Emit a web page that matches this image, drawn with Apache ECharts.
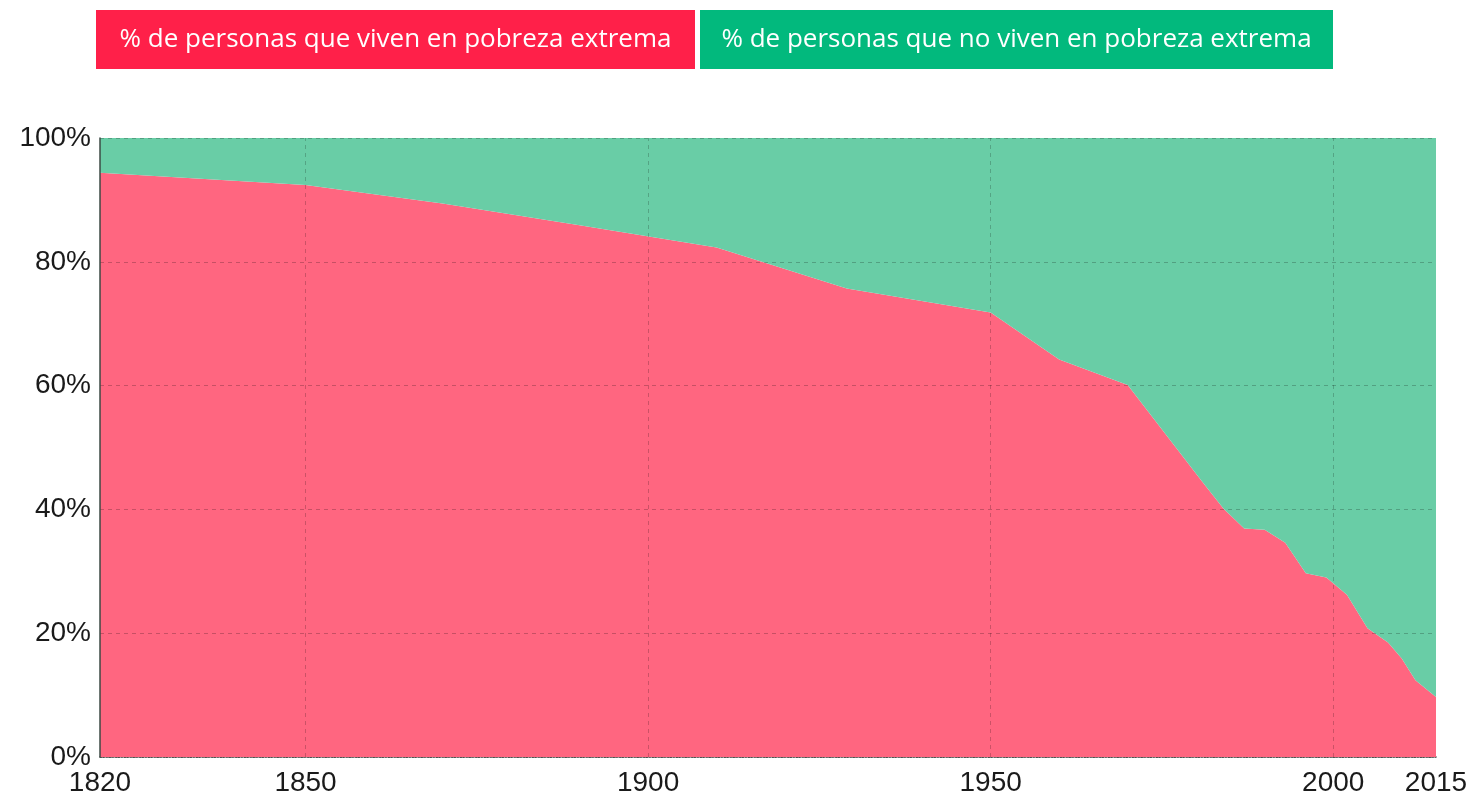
<!DOCTYPE html>
<html>
<head>
<meta charset="utf-8">
<title>Pobreza extrema 1820-2015</title>
<script src="https://cdn.jsdelivr.net/npm/echarts@6/dist/echarts.min.js"></script>
<style>
  html, body { margin: 0; padding: 0; background: #fff; }
  #chart { width: 1473px; height: 801px; }
</style>
</head>
<body>
<div id="chart"></div>
<script>
// años del eje x
var years = [1820, 1850, 1870, 1890, 1910, 1929, 1950, 1960, 1970, 1981, 1984, 1987,
  1990, 1993, 1996, 1999, 2002, 2005, 2008, 2010, 2012, 2015]
// % de personas que viven en pobreza extrema
var poor = [94.4, 92.4, 89.4, 85.9, 82.3, 75.7, 71.8, 64.2, 60.1, 44.3, 40.1, 36.9,
  36.7, 34.6, 29.7, 29.0, 26.2, 20.8, 18.5, 15.9, 12.4, 9.7]
// % de personas que no viven en pobreza extrema
var notPoor = [5.6, 7.6, 10.6, 14.1, 17.7, 24.3, 28.2, 35.8, 39.9, 55.7, 59.9, 63.1,
  63.3, 65.4, 70.3, 71.0, 73.8, 79.2, 81.5, 84.1, 87.6, 90.3]
// etiquetas del eje x y lineas verticales
var xLabels = [1820, 1850, 1900, 1950, 2000, 2015]
var gridYears = [1850, 1900, 1950, 2000]
var seriesNames = ['% de personas que viven en pobreza extrema', '% de personas que no viven en pobreza extrema']

var chart = echarts.init(document.getElementById('chart'))

function pairs(vals) {
  return years.map(function(y, i) { return [y, vals[i]] })
}

// caja de leyenda con texto blanco
function legendBox(left, width, fill, text) {
  return {
    type: 'rect',
    left: left,
    top: 10,
    shape: { width: width, height: 59 },
    style: { fill: fill },
    textContent: {
      style: {
        text: text,
        fill: '#fff',
        font: '26px "Open Sans", sans-serif'
      }
    },
    textConfig: { position: 'inside' }
  }
}

var labelFont = '"Liberation Sans", Arial, sans-serif'

var option = {
  animation: false,
  grid: { left: 100, right: 37, top: 138, bottom: 44 },
  graphic: [
    legendBox(96, 599, '#ff2049', seriesNames[0]),
    legendBox(700, 633, '#02b97d', seriesNames[1])
  ],
  xAxis: {
    type: 'value',
    min: 1820,
    max: 2015,
    interval: 5,
    axisLine: { show: true, lineStyle: { color: '#333', type: 'dotted', width: 1.5 } },
    axisTick: { show: false },
    splitLine: { show: false },
    axisLabel: {
      customValues: xLabels,
      margin: 12,
      color: '#1a1a1a',
      fontSize: 28,
      fontFamily: labelFont,
      formatter: function(v) { return String(v) }
    }
  },
  yAxis: [
    {
      type: 'value',
      min: 0,
      max: 100,
      interval: 20,
      z: 5,
      axisLine: { show: true, lineStyle: { color: '#3d4a44', width: 1.5 } },
      axisTick: { show: false },
      splitLine: { show: true, lineStyle: { color: 'rgba(0,0,0,0.22)', type: [4, 4] } },
      axisLabel: {
        margin: 9,
        color: '#1a1a1a',
        fontSize: 28,
        fontFamily: labelFont,
        formatter: '{value}%'
      }
    },
    {
      // eje invertido para la parte verde (se llena desde arriba)
      type: 'value',
      min: 0,
      max: 100,
      inverse: true,
      show: false,
      splitLine: { show: false }
    }
  ],
  series: [
    {
      name: seriesNames[0],
      type: 'line',
      symbol: 'none',
      lineStyle: { width: 0 },
      areaStyle: { color: '#ff6680', opacity: 1 },
      data: pairs(poor)
    },
    {
      name: seriesNames[1],
      type: 'line',
      yAxisIndex: 1,
      symbol: 'none',
      lineStyle: { width: 0 },
      areaStyle: { color: '#69cda6', opacity: 1 },
      data: pairs(notPoor)
    },
    {
      // lineas verticales de la cuadricula
      name: 'grid',
      type: 'line',
      z: 4,
      data: [],
      markLine: {
        silent: true,
        symbol: 'none',
        label: { show: false },
        lineStyle: { color: 'rgba(0,0,0,0.2)', type: [4, 4], width: 1 },
        data: gridYears.map(function(y) { return { xAxis: y } })
      }
    }
  ]
}

chart.setOption(option)
</script>
</body>
</html>
